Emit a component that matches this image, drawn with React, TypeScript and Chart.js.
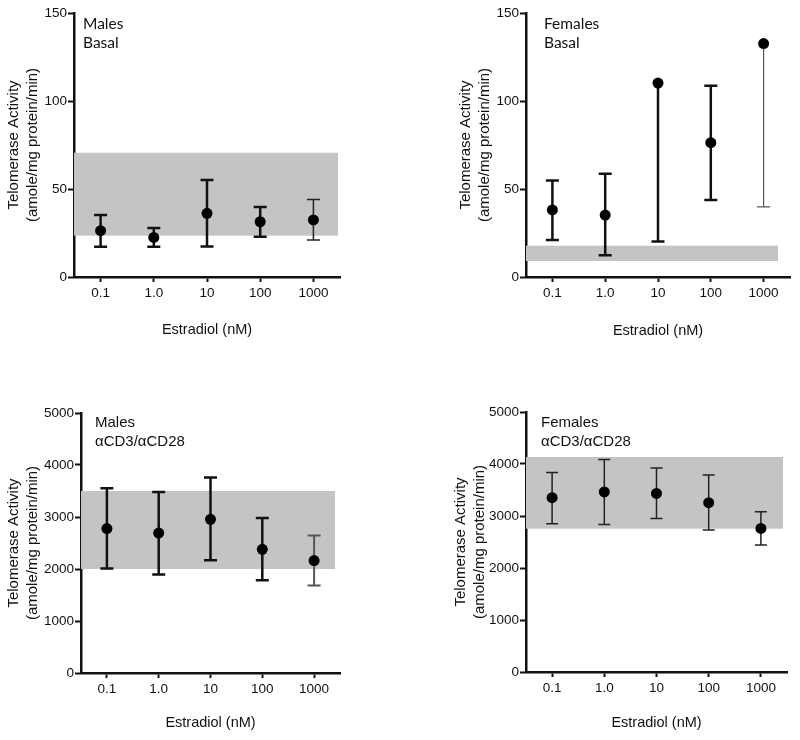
import React, { useEffect, useRef } from 'react';
import { Chart, registerables } from 'chart.js';
Chart.register(...registerables);

const categories = ['0.1', '1.0', '10', '100', '1000'];

const malesBasalMean = [26.3, 22.5, 36.2, 31.4, 32.4];
const malesBasalUpper = [35.2, 27.8, 55.1, 39.8, 44.1];
const malesBasalLower = [17.2, 17.2, 17.4, 22.9, 21.0];
const malesBasalBand = [23.5, 70.6];

const femalesBasalMean = [38.1, 35.2, 110.2, 76.3, 132.6];
const femalesBasalUpper = [54.9, 58.7, null, 108.7, null];
const femalesBasalLower = [21.0, 12.3, 20.1, 43.8, 39.9];
const femalesBasalBand = [9.1, 17.8];

const malesStimMean = [2777, 2692, 2956, 2379, 2162];
const malesStimUpper = [3552, 3481, 3758, 2981, 2642];
const malesStimLower = [2010, 1892, 2167, 1783, 1681];
const malesStimBand = [2000, 3500];

const femalesStimMean = [3352, 3462, 3435, 3256, 2762];
const femalesStimUpper = [3838, 4088, 3923, 3788, 3083];
const femalesStimLower = [2852, 2838, 2954, 2731, 2442];
const femalesStimBand = [2756, 4135];

const yTitle = ['Telomerase Activity', '(amole/mg protein/min)'];
const xTitle = 'Estradiol (nM)';

const FONT = '"Liberation Sans", Arial, sans-serif';

type Cfg = {
  pos: [number, number];
  area: { left: number; right: number; top: number; bottom: number };
  yMax: number;
  step: number;
  mean: number[];
  upper: (number | null)[];
  lower: (number | null)[];
  band: number[];
  bandRightInset: number;
  errWidth: number[];
  errColor: string[];
  capHalf: number;
  label: string[];
  labelFont: string;
  labelPos: [number, number];
  xTitleBottom: number;
  yTitlePad: number;
};

const panels: Cfg[] = [
  {
    pos: [0, 0],
    area: { left: 74, right: 340, top: 13, bottom: 277 },
    yMax: 150, step: 50,
    mean: malesBasalMean, upper: malesBasalUpper, lower: malesBasalLower, band: malesBasalBand,
    bandRightInset: 2,
    errWidth: [2.5, 2.5, 2.5, 2.5, 1.5],
    errColor: ['#111', '#111', '#111', '#111', '#222'],
    capHalf: 6.5,
    label: ['Males', 'Basal'], labelFont: '15.5px Lato, sans-serif', labelPos: [83, 24],
    xTitleBottom: 31.3, yTitlePad: 4.5,
  },
  {
    pos: [400, 0],
    area: { left: 126, right: 390, top: 13, bottom: 277 },
    yMax: 150, step: 50,
    mean: femalesBasalMean, upper: femalesBasalUpper, lower: femalesBasalLower, band: femalesBasalBand,
    bandRightInset: 12,
    errWidth: [2.5, 2.5, 2.5, 2.5, 1.2],
    errColor: ['#111', '#111', '#111', '#111', '#555'],
    capHalf: 6.5,
    label: ['Females', 'Basal'], labelFont: '15.5px Lato, sans-serif', labelPos: [144, 24],
    xTitleBottom: 30.3, yTitlePad: 56.5,
  },
  {
    pos: [0, 370],
    area: { left: 81, right: 340, top: 43, bottom: 303 },
    yMax: 5000, step: 1000,
    mean: malesStimMean, upper: malesStimUpper, lower: malesStimLower, band: malesStimBand,
    bandRightInset: 5,
    errWidth: [2.5, 2.5, 2.5, 2.5, 2],
    errColor: ['#111', '#111', '#111', '#111', '#555'],
    capHalf: 6.5,
    label: ['Males', '\u03b1CD3/\u03b1CD28'], labelFont: '15px ' + FONT, labelPos: [95, 53],
    xTitleBottom: 8.3, yTitlePad: 4.5,
  },
  {
    pos: [400, 370],
    area: { left: 126, right: 387, top: 42, bottom: 302 },
    yMax: 5000, step: 1000,
    mean: femalesStimMean, upper: femalesStimUpper, lower: femalesStimLower, band: femalesStimBand,
    bandRightInset: 4,
    errWidth: [1.5, 1.5, 1.5, 1.5, 1.5],
    errColor: ['#222', '#222', '#222', '#222', '#222'],
    capHalf: 6,
    label: ['Females', '\u03b1CD3/\u03b1CD28'], labelFont: '15px ' + FONT, labelPos: [141, 53],
    xTitleBottom: 8.3, yTitlePad: 51.5,
  },
];

const W = 400;
const H = 370;

function Panel({ cfg }: { cfg: Cfg }) {
  const ref = useRef<HTMLCanvasElement>(null);
  useEffect(() => {
    const decor = {
      id: 'decor',
      beforeDatasetsDraw(chart: any) {
        const { ctx, chartArea } = chart;
        const xs = chart.scales.x;
        const ys = chart.scales.y;
        ctx.save();
        const yTop = ys.getPixelForValue(cfg.band[1]);
        const yBot = ys.getPixelForValue(cfg.band[0]);
        ctx.fillStyle = '#c4c4c4';
        ctx.fillRect(chartArea.left, yTop, chartArea.right - cfg.bandRightInset - chartArea.left, yBot - yTop);
        cfg.mean.forEach((m, i) => {
          const x = xs.getPixelForValue(i);
          const ym = ys.getPixelForValue(m);
          const up = cfg.upper[i];
          const lo = cfg.lower[i];
          const y1 = up == null ? ym : ys.getPixelForValue(up);
          const y2 = lo == null ? ym : ys.getPixelForValue(lo);
          ctx.strokeStyle = cfg.errColor[i];
          ctx.lineWidth = cfg.errWidth[i];
          ctx.beginPath();
          ctx.moveTo(x, y1);
          ctx.lineTo(x, y2);
          if (up != null) { ctx.moveTo(x - cfg.capHalf, y1); ctx.lineTo(x + cfg.capHalf, y1); }
          if (lo != null) { ctx.moveTo(x - cfg.capHalf, y2); ctx.lineTo(x + cfg.capHalf, y2); }
          ctx.stroke();
        });
        ctx.restore();
      },
      afterDraw(chart: any) {
        const { ctx } = chart;
        ctx.save();
        ctx.fillStyle = '#111';
        ctx.font = cfg.labelFont;
        ctx.textBaseline = 'middle';
        ctx.textAlign = 'left';
        cfg.label.forEach((t, i) => ctx.fillText(t, cfg.labelPos[0], cfg.labelPos[1] + i * 18.5));
        ctx.restore();
      },
    };
    const chart = new Chart(ref.current as HTMLCanvasElement, {
      type: 'line',
      data: {
        labels: categories,
        datasets: [{
          data: cfg.mean,
          showLine: false,
          pointRadius: 5.5,
          pointHoverRadius: 5.5,
          pointBackgroundColor: '#000',
          pointBorderColor: '#000',
          pointBorderWidth: 0,
        }],
      },
      options: {
        responsive: false,
        animation: false,
        devicePixelRatio: 1,
        events: [],
        layout: { padding: { left: 0, top: cfg.area.top, right: W - cfg.area.right, bottom: 0 } },
        plugins: { legend: { display: false }, tooltip: { enabled: false } },
        scales: {
          x: {
            type: 'category',
            offset: true,
            grid: { offset: false, drawOnChartArea: false, drawTicks: true, tickLength: 5, tickWidth: 2, tickColor: '#111', color: '#111' },
            border: { color: '#111', width: 2.5 },
            ticks: { color: '#111', font: { family: FONT, size: 13.5 }, padding: 3, maxRotation: 0, autoSkip: false },
            title: { display: true, text: xTitle, color: '#111', font: { family: FONT, size: 14.5 }, padding: { top: 0, bottom: cfg.xTitleBottom } },
            afterFit: (s: any) => { s.height = H - cfg.area.bottom; },
          },
          y: {
            min: 0,
            max: cfg.yMax,
            grid: { drawOnChartArea: false, drawTicks: true, tickLength: 6, tickWidth: 2, tickColor: '#111', color: '#111' },
            border: { color: '#111', width: 2.5 },
            ticks: { stepSize: cfg.step, color: '#111', font: { family: FONT, size: 13.5 }, padding: 1, callback: (v: any) => String(v) },
            title: { display: true, text: yTitle, color: '#111', font: { family: FONT, size: 15, lineHeight: 1.27 }, padding: { top: cfg.yTitlePad, bottom: 0 } },
            afterFit: (s: any) => { s.width = cfg.area.left; },
          },
        },
      } as any,
      plugins: [decor],
    });
    return () => chart.destroy();
  }, []);
  return (
    <canvas
      ref={ref}
      width={W}
      height={H}
      style={{ position: 'absolute', left: cfg.pos[0], top: cfg.pos[1], width: W, height: H }}
    />
  );
}

export default function App() {
  return (
    <div style={{ position: 'absolute', left: 0, top: 0, width: 800, height: 740, background: '#fff' }}>
      {panels.map((p, i) => <Panel key={i} cfg={p} />)}
    </div>
  );
}
